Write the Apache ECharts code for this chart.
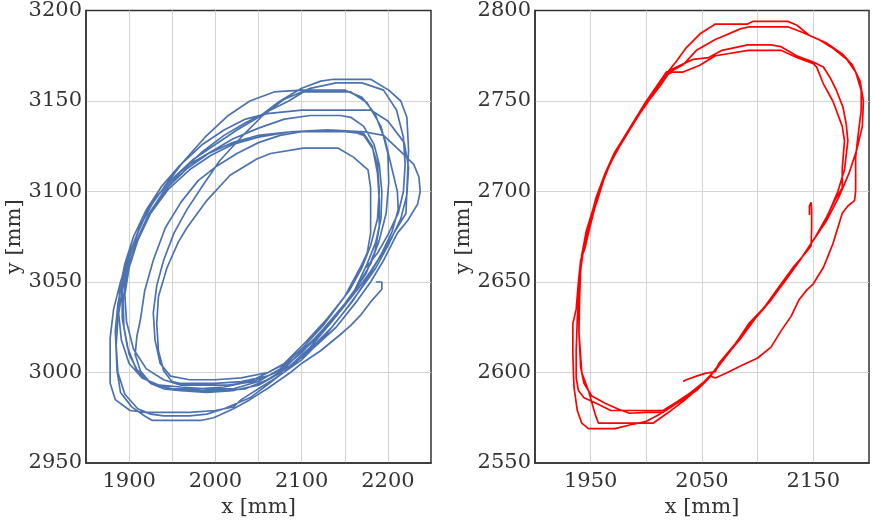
<!DOCTYPE html>
<html>
<head>
<meta charset="utf-8">
<script src="https://cdn.jsdelivr.net/npm/echarts@6/dist/echarts.min.js"></script>
<style>
  html, body { margin: 0; padding: 0; background: #fff; }
  #chart { width: 872px; height: 529px; }
</style>
</head>
<body>
<div id="chart"></div>
<script>
// Trajectory laps, [x mm, y mm] in drawing order.
// Left panel (blue): starts at the small hook on the lower-right side.
const blueLap1 = [[2186,3050],[2193,3050],[2193,3046],[2180,3039],[2169,3032],[2157,3026],[2145,3021],[2122,3012],[2100,3005],[2087,3000],[2060,2991],[2040,2985],[2021,2980],[1998,2975],[1983,2973.5],[1927,2973.5],[1918,2976],[1903,2981],[1890,2989],[1886,3001],[1884,3023],[1887,3038],[1893,3052],[1902,3067],[1914,3082],[1930,3096],[1950,3107],[1975,3118],[2000,3126],[2025,3134],[2050,3141],[2075,3150],[2100,3157],[2122,3161],[2137,3162],[2180,3162],[2201,3156],[2215,3150],[2222,3141],[2224,3123],[2222,3100],[2221,3088],[2207,3077],[2195,3067]];
const blueLap2 = [[2180,3056],[2165,3046],[2145,3034],[2120,3021],[2100,3012],[2076,3000],[2050,2993],[2020,2990],[1990,2989],[1960,2990],[1940,2991],[1925,2994],[1913,3001],[1907,3010],[1909,3020],[1913,3029],[1918,3045],[1928,3062],[1942,3080],[1960,3094],[1980,3106],[2000,3113.5],[2025,3121],[2050,3127],[2075,3131],[2100,3133],[2130,3134],[2160,3133],[2172,3131],[2182,3124],[2188,3115],[2190,3100],[2188,3085],[2180,3070],[2170,3058]];
const blueLap3 = [[2155,3045],[2130,3030],[2105,3017],[2080,3005],[2061,3000],[2040,2995],[2010,2992],[1980,2991],[1950,2991],[1930,2993],[1912,2999],[1900,3010],[1894,3025],[1893,3040],[1898,3056],[1908,3072],[1922,3087],[1940,3100],[1962,3112],[1985,3122],[2010,3131],[2035,3138],[2060,3144],[2085,3150],[2102,3155],[2157,3155],[2176,3149],[2192,3136],[2200,3121],[2201,3105],[2198,3088],[2190,3073],[2180,3060]];
const blueLap4 = [[2165,3048],[2150,3038],[2125,3024],[2100,3011],[2075,3001],[2044,2995],[2015,2993],[1985,2993],[1960,2993],[1940,2996],[1920,3002],[1905,3013],[1897,3028],[1895,3043],[1900,3058],[1910,3073],[1925,3088],[1945,3101],[1970,3112],[1995,3120],[2020,3126],[2050,3130],[2087,3133],[2130,3134],[2172,3133],[2195,3131],[2215,3122],[2230,3115],[2236,3108],[2237.5,3100],[2234.5,3093],[2223,3084],[2211,3077],[2195,3062],[2180,3050]];
const blueLap5 = [[2165,3040],[2140,3025],[2110,3012],[2085,3003],[2060,2998],[2030,2995],[2000,2994],[1970,2994],[1959,2994],[1949.6,2995],[1940,3001],[1934,3012],[1932,3027],[1934,3042],[1944,3058],[1957,3072],[1967,3080],[1990,3095],[2017,3109],[2048,3118],[2064,3121],[2102,3124],[2142,3124],[2160,3119],[2177,3112],[2180,3102],[2180,3077],[2176,3066],[2168,3058]];
const blueLap6 = [[2150,3042],[2125,3026],[2100,3013],[2075,3002],[2050,2995],[2021,2991],[1990,2991],[1960,2992],[1935,2993],[1915,2997],[1900,3005],[1891,3018],[1888,3032],[1889,3046],[1895,3060],[1905,3075],[1920,3090],[1938,3103],[1958,3114],[1985,3126],[2010,3134],[2035,3140],[2060,3143],[2100,3145],[2140,3145],[2180,3145],[2200,3139],[2219,3127],[2224,3113],[2222,3098],[2215,3085],[2200,3070],[2185,3057],[2170,3047]];
const blueLap7 = [[2150,3034],[2125,3019],[2100,3007],[2070,2997],[2050,2991],[2030,2985],[2021,2981],[2000,2979],[1970,2978],[1940,2978],[1920,2978],[1901,2979],[1884,2985],[1878,2994],[1878,3019],[1882,3035],[1890,3050],[1900,3065],[1912,3080],[1928,3095],[1948,3106],[1970,3115],[1995,3122],[2020,3129],[2050,3135],[2080,3140],[2110,3142],[2145,3142],[2157,3141],[2172,3136],[2184,3126],[2190,3115],[2193,3100],[2192,3085],[2186,3072],[2176,3060]];
const blueLap8 = [[2160,3044],[2135,3028],[2110,3014],[2085,3003],[2060,2996],[2035,2991],[2005,2990],[1975,2990],[1950,2991],[1925,2994],[1908,3002],[1898,3014],[1892,3030],[1892,3045],[1898,3060],[1908,3075],[1922,3090],[1940,3102],[1962,3116],[1988,3130],[2015,3142],[2040,3150],[2068,3155],[2100,3156],[2150,3156],[2170,3152],[2185,3143],[2197,3128],[2205,3112],[2211,3100],[2212,3090],[2205,3078],[2193,3066],[2180,3055]];
const blueLap9 = [[2160,3040],[2135,3025],[2110,3013],[2087,3003],[2060,2993],[2040,2986],[2010,2980],[1990,2977],[1970,2976],[1940,2976],[1925,2977],[1910,2980],[1895,2988],[1887,3000],[1885,3015],[1887,3030],[1892,3045],[1900,3060],[1912,3076],[1928,3091],[1946,3103],[1968,3113],[1992,3121],[2020,3127],[2050,3131],[2087,3133],[2150,3133],[2172,3132],[2182,3125],[2188,3110],[2190,3095],[2190,3080],[2185,3067],[2175,3055]];
const blueLap10 = [[2160,3044],[2140,3031],[2115,3018],[2090,3007],[2061,3000],[2030,2997],[2000,2996],[1970,2996],[1948,2998],[1936,3005],[1930,3018],[1928,3033],[1932,3048],[1940,3062],[1952,3077],[1967,3090],[1985,3103],[2005,3117],[2030,3130],[2055,3142],[2080,3151],[2110,3157],[2140,3160],[2170,3160],[2195,3156],[2210,3145],[2218,3130],[2220,3115],[2218,3100],[2212,3088],[2200,3076],[2188,3066],[2175,3058]];

// Right panel (red): starts at the short lead-in on the lower diagonal.
const redLap1 = [[2033,2595],[2036,2596],[2045,2598],[2053,2599.5],[2062,2600.5],[2065,2605],[2080,2616],[2094,2628],[2109,2638],[2124,2650],[2138,2662],[2150,2673],[2162,2684],[2173,2697],[2182,2710],[2189,2723],[2194,2736],[2195,2750],[2192,2761],[2185,2770],[2176,2776],[2162,2782],[2147,2786],[2135,2792],[2127,2794],[2096,2794],[2091,2792.5],[2062,2792.5],[2048,2787],[2036,2779.5],[2027,2772],[2018,2765],[2009,2757],[2000,2750],[1992,2741],[1983,2732],[1975,2724],[1967,2715],[1957,2699],[1948,2677],[1945,2669],[1941,2662],[1939,2650],[1937,2635],[1934,2627],[1934,2610],[1935,2592],[1938,2579],[1942,2572],[1948,2569],[1972,2569],[1985,2571],[2000,2573],[2012,2577],[2025,2582],[2038,2587],[2050,2593],[2060,2600]];
const redLap2 = [[2070,2608],[2085,2619],[2098,2630],[2112,2640],[2126,2652],[2140,2664],[2152,2675],[2163,2687],[2172,2700],[2178,2712],[2181,2728],[2179.6,2737],[2176.6,2746.6],[2170.8,2755.8],[2165,2763],[2159,2768.8],[2150,2771.5],[2135,2775],[2121,2780],[2112,2781],[2091,2781],[2068,2778],[2056,2774],[2042,2773],[2030,2769.6],[2018,2766],[2008,2757],[1999,2749],[1990,2740],[1981,2731],[1973,2722],[1965,2712],[1958,2700],[1952,2690],[1946,2678],[1942,2665],[1940,2650],[1939.5,2635],[1939.5,2622],[1941,2603],[1944,2594],[1951,2587],[1963,2583],[1974,2580],[1985,2577.5],[2000,2578],[2015,2578],[2030,2584],[2045,2590],[2055,2596]];
const redLap3 = [[2067,2606],[2082,2617],[2096,2629],[2110,2639],[2125,2651],[2139,2663],[2151,2674],[2162,2686],[2170,2696],[2176,2702],[2176,2713],[2178,2728],[2176,2736],[2167.5,2750],[2159,2759.5],[2153,2768.7],[2150,2770.6],[2135,2774],[2121,2778],[2091.5,2778],[2062,2775],[2047.6,2769.6],[2033,2766],[2024,2766],[2016,2764],[2007,2756],[1998,2748],[1989,2739],[1980,2730],[1971,2721],[1963,2710],[1955,2697],[1949,2683],[1944,2670],[1941,2657],[1940,2640],[1939.5,2622],[1942,2600],[1948,2590],[1954,2577],[1957,2572],[1975,2572],[2006,2572],[2020,2578],[2035,2585],[2048,2592],[2058,2598]];
const redLap4 = [[2062,2597],[2071,2599.5],[2086,2604],[2100,2608],[2112,2614],[2121,2623],[2130,2631],[2137,2640],[2144,2645.5],[2150,2649],[2154,2653],[2159,2658],[2163,2664],[2167.5,2671],[2172,2680],[2176,2688],[2181,2692],[2187,2695],[2188,2700],[2188,2719],[2190,2730],[2193,2745],[2193,2756],[2188,2766],[2180,2773],[2168,2779],[2155,2784],[2140,2788],[2127,2791],[2093,2791],[2085,2790],[2062,2784],[2045,2778],[2033,2770],[2021,2766],[2012,2758],[2002,2750],[1993,2742],[1984,2733],[1976,2725],[1968,2716],[1962,2707],[1956,2695],[1951,2686],[1946,2678],[1942,2664],[1940,2648],[1938,2630],[1937,2612],[1937,2597],[1939,2590],[1944,2586],[1955,2583],[1968,2579],[1983,2579],[2015,2579],[2028,2584],[2040,2589],[2052,2595]];
const redLap5 = [[2063,2602],[2078,2614],[2092,2627],[2106,2636],[2120,2648],[2133,2659],[2143,2666],[2148,2670],[2148.5,2680],[2148.5,2690],[2148,2694],[2146.5,2692],[2146.5,2687]];

// Axis ranges and tick spacing
const leftX = { min: 1850, max: 2250, step: 50, labelEvery: 100, labelFrom: 1900 };
const leftY = { min: 2950, max: 3200, step: 50 };
const rightX = { min: 1900, max: 2200, step: 50, labelEvery: 100, labelFrom: 1950 };
const rightY = { min: 2550, max: 2800, step: 50 };

const blueTrack = [].concat(blueLap1, blueLap2, blueLap3, blueLap4, blueLap5, blueLap6, blueLap7, blueLap8, blueLap9, blueLap10);
const redTrack = [].concat(redLap1, redLap2, redLap3, redLap4, redLap5);

const FONT = 'DejaVu Serif';
const TEXT = '#333333';
const FRAME = '#333333';
const labelStyle = { fontFamily: FONT, fontSize: 21, color: TEXT };
const gridLine = { show: true, showMinLine: false, showMaxLine: false, lineStyle: { color: '#d3d3d3', width: 1 } };

function xAxisCfg(idx, r) {
  return {
    type: 'value', gridIndex: idx, min: r.min, max: r.max, interval: r.step,
    name: 'x [mm]', nameLocation: 'middle', nameGap: 24,
    nameTextStyle: { fontFamily: FONT, fontSize: 21, color: TEXT },
    axisLine: { show: true, onZero: false, lineStyle: { color: FRAME, width: 1.5 } },
    axisTick: { show: false },
    axisLabel: Object.assign({}, labelStyle, {
      margin: 8,
      formatter: v => ((v - r.labelFrom) % r.labelEvery === 0 ? String(v) : '')
    }),
    splitLine: gridLine
  };
}
function yAxisCfg(idx, r, gap) {
  return {
    type: 'value', gridIndex: idx, min: r.min, max: r.max, interval: r.step,
    name: 'y [mm]', nameLocation: 'middle', nameGap: gap, nameRotate: 90,
    nameTextStyle: { fontFamily: FONT, fontSize: 21, color: TEXT },
    axisLine: { show: true, onZero: false, lineStyle: { color: FRAME, width: 1.5 } },
    axisTick: { show: false },
    axisLabel: Object.assign({}, labelStyle, { margin: 4, formatter: v => String(v) }),
    splitLine: gridLine
  };
}

const chart = echarts.init(document.getElementById('chart'), null, { renderer: 'canvas' });
chart.setOption({
  animation: false,
  backgroundColor: '#ffffff',
  grid: [
    { left: 86, top: 10, width: 345, height: 453, show: true, borderColor: FRAME, borderWidth: 1.5, backgroundColor: 'transparent' },
    { left: 535, top: 10, width: 342, height: 453, show: true, borderColor: FRAME, borderWidth: 1.5, backgroundColor: 'transparent' }
  ],
  xAxis: [xAxisCfg(0, leftX), xAxisCfg(1, rightX)],
  yAxis: [yAxisCfg(0, leftY, 45), yAxisCfg(1, rightY, 60)],
  series: [
    {
      type: 'line', xAxisIndex: 0, yAxisIndex: 0, data: blueTrack,
      showSymbol: false, symbol: 'none', smooth: false,
      lineStyle: { color: '#4C72B0', width: 1.7 }, z: 3
    },
    {
      type: 'line', xAxisIndex: 1, yAxisIndex: 1, data: redTrack,
      showSymbol: false, symbol: 'none', smooth: false,
      lineStyle: { color: '#ff0000', width: 1.7 }, z: 3
    }
  ]
});
</script>
</body>
</html>
